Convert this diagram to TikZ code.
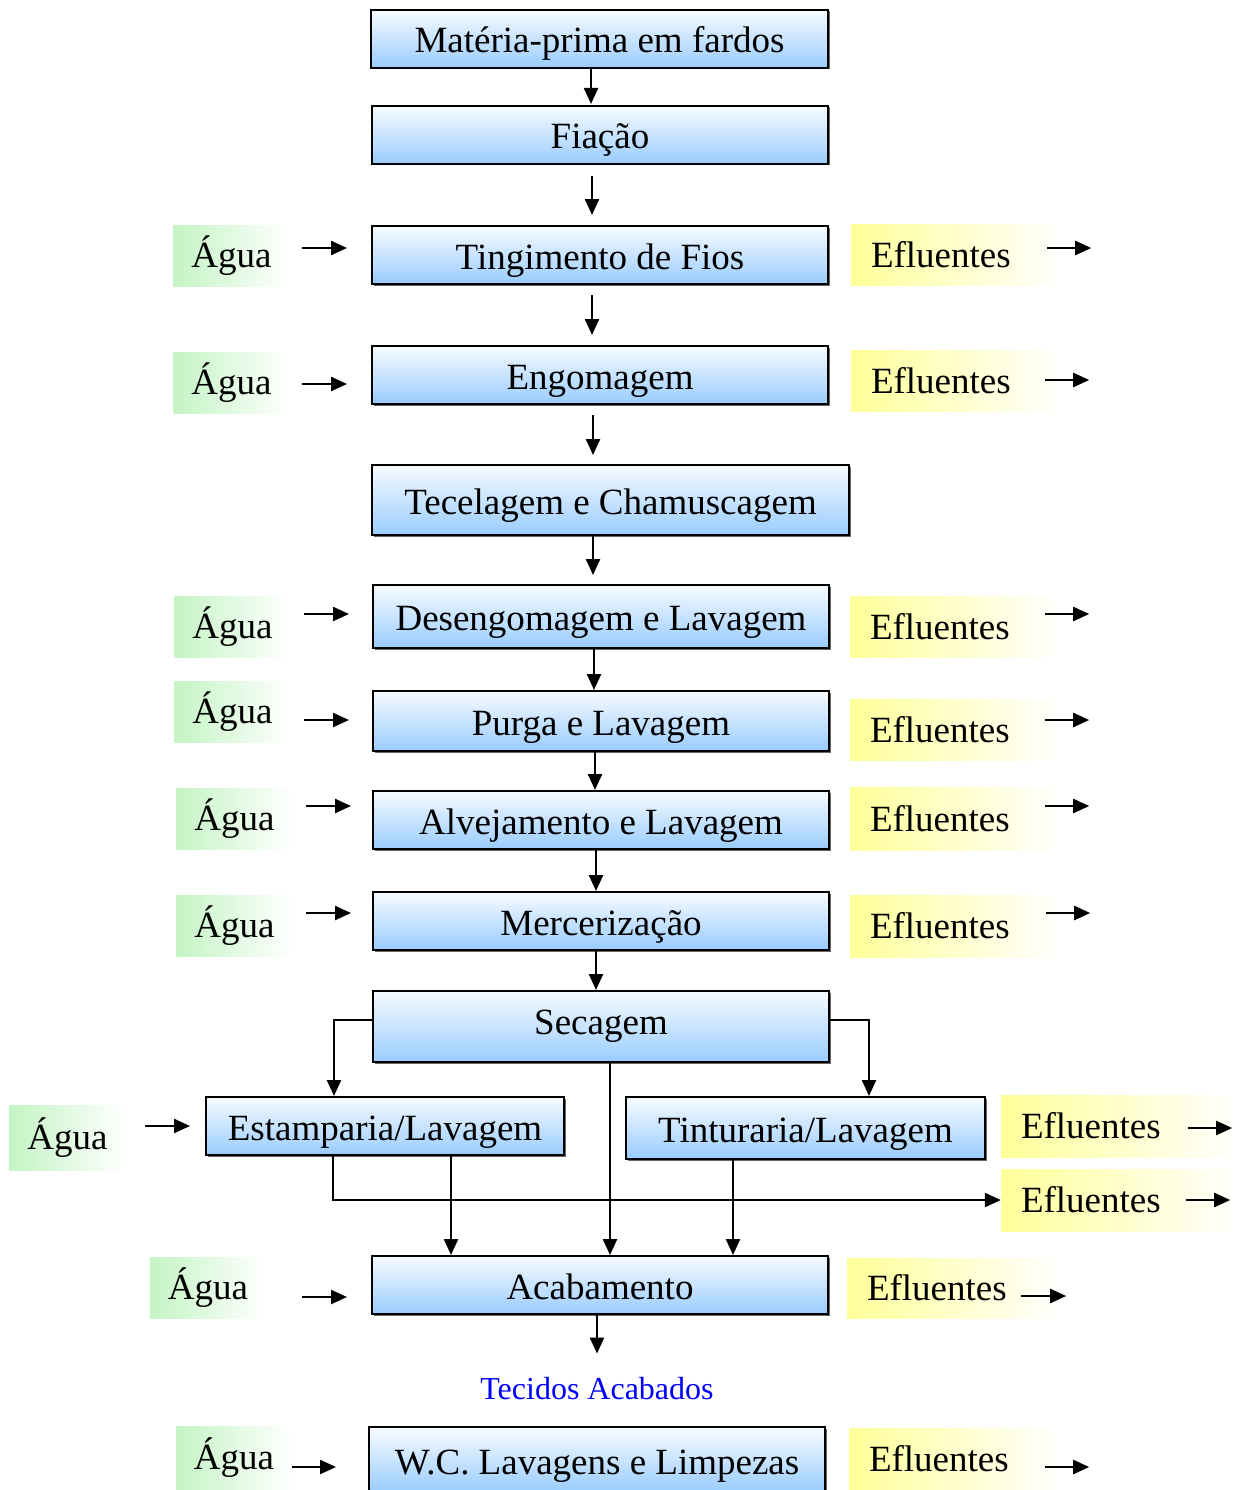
\documentclass[tikz,border=0pt]{standalone}
\usepackage{fontspec}
\setmainfont{Liberation Serif}
\usepackage{xcolor}
\usetikzlibrary{arrows.meta,shadows}
\definecolor{boxtop}{HTML}{F7FBFF}
\definecolor{boxbottom}{HTML}{99CCFF}
\definecolor{aguafill}{HTML}{C4F4C4}
\definecolor{eflfill}{HTML}{FFFF99}
\definecolor{produto}{HTML}{0000FF}

\begin{document}
\begin{tikzpicture}[
  x=1pt, y=-1pt,
  stage/.style={
    rectangle,
    draw=black,
    line width=2pt,
    top color=boxtop,
    bottom color=boxbottom,
    drop shadow={shadow xshift=1.5pt, shadow yshift=-1.5pt, fill=black!60, opacity=1},
    minimum width=456pt,
    minimum height=58pt,
    inner sep=0pt,
    text height=36pt,
    text depth=8pt,
    font=\fontsize{37}{44}\selectfont
  },
  agua/.style={
    rectangle,
    left color=aguafill,
    right color=white,
    minimum width=116pt,
    minimum height=61pt,
    inner sep=0pt,
    font=\fontsize{37}{44}\selectfont
  },
  efluente/.style={
    rectangle,
    left color=eflfill,
    right color=white,
    minimum height=61pt,
    inner xsep=20pt,
    inner ysep=0pt,
    text width=172pt,
    align=left,
    font=\fontsize{37}{44}\selectfont
  },
  produto/.style={inner sep=0pt, text=produto, font=\fontsize{32}{38}\selectfont},
  arrow/.style={-{Triangle[length=16pt,width=14pt]}, line width=2.4pt}
]
\useasboundingbox (0,0) rectangle (1241,1490);

\node[stage, minimum width=457pt] (mp) at (599.5,39) {Matéria-prima em fardos};
\node[stage] (fia) at (600,135) {Fiação};
\node[stage] (ting) at (600,255) {Tingimento de Fios};
\node[stage] (engo) at (600,375) {Engomagem};
\node[stage, minimum width=477pt, minimum height=70pt] (tece) at (610.5,500) {Tecelagem e Chamuscagem};
\node[stage, minimum height=63pt] (dese) at (601,616.5) {Desengomagem e Lavagem};
\node[stage, minimum height=60pt] (purga) at (601,721) {Purga e Lavagem};
\node[stage] (alve) at (601,820) {Alvejamento e Lavagem};
\node[stage] (merc) at (601,921) {Mercerização};
\node[stage, minimum height=71pt, text height=23pt] (seca) at (601,1026.5) {Secagem};
\node[stage, minimum width=358pt] (estp) at (385,1126) {Estamparia/Lavagem};
\node[stage, minimum width=359pt, minimum height=62pt] (tint) at (805.5,1128) {Tinturaria/Lavagem};
\node[stage] (acab) at (600,1285) {Acabamento};
\node[produto] (tec) at (597,1389) {Tecidos Acabados};
\node[stage, minimum height=66pt] (wc) at (597,1460) {W.C. Lavagens e Limpezas};

\node[agua] (ag3) at (231.5,255.5) {Água};
\node[agua] (ag4) at (231.5,383) {Água};
\node[agua] (ag6) at (232.5,627) {Água};
\node[agua] (ag7) at (232.5,712) {Água};
\node[agua] (ag8) at (234.5,818.5) {Água};
\node[agua] (ag9) at (234.5,926) {Água};
\node[agua, minimum height=65pt] (agE) at (67.5,1137.5) {Água};
\node[agua] (agA) at (208,1288) {Água};
\node[agua, minimum height=64pt] (agW) at (234,1458) {Água};

\node[efluente] (ef3) at (957,254.5) {Efluentes};
\node[efluente] (ef4) at (957,380.5) {Efluentes};
\node[efluente, text width=170pt] (ef6) at (955,627) {Efluentes};
\node[efluente, text width=170pt] (ef7) at (955,730) {Efluentes};
\node[efluente, text width=170pt, minimum height=63pt] (ef8) at (955,818.5) {Efluentes};
\node[efluente, text width=170pt, minimum height=62pt] (ef9) at (955,926) {Efluentes};
\node[efluente, text width=199pt, minimum height=62pt] (efT) at (1120.5,1126) {Efluentes};
\node[efluente, text width=199pt, minimum height=62pt] (efS) at (1120.5,1200) {Efluentes};
\node[efluente, text width=173pt, minimum height=60pt] (efA) at (953.5,1288) {Efluentes};
\node[efluente, text width=171pt, minimum height=62pt] (efW) at (954.5,1459) {Efluentes};

\draw[arrow, shorten >=1pt] ([xshift=-8.5pt]mp.south) -- ([xshift=-8.5pt]mp.south |- fia.north);
\draw[arrow, shorten <=11pt, shorten >=10pt] ([xshift=-8pt]fia.south) -- ([xshift=-8pt]fia.south |- ting.north);
\draw[arrow, shorten <=10pt, shorten >=10pt] ([xshift=-8pt]ting.south) -- ([xshift=-8pt]ting.south |- engo.north);
\draw[arrow, shorten <=10pt, shorten >=9pt] ([xshift=-7pt]engo.south) -- ([xshift=-7pt]engo.south |- tece.north);
\draw[arrow, shorten >=9pt] ([xshift=-17.5pt]tece.south) -- ([xshift=-17.5pt]tece.south |- dese.north);
\draw[arrow] ([xshift=-7pt]dese.south) -- ([xshift=-7pt]dese.south |- purga.north);
\draw[arrow] ([xshift=-6pt]purga.south) -- ([xshift=-6pt]purga.south |- alve.north);
\draw[arrow] ([xshift=-5pt]alve.south) -- ([xshift=-5pt]alve.south |- merc.north);
\draw[arrow] ([xshift=-5pt]merc.south) -- ([xshift=-5pt]merc.south |- seca.north);
\draw[arrow] ([yshift=6.5pt]seca.west) -| ([xshift=-51pt]estp.north);
\draw[arrow] ([yshift=6.5pt]seca.east) -| ([xshift=63.5pt]tint.north);
\draw[arrow] ([xshift=9pt]seca.south) -- ([xshift=9pt]seca.south |- acab.north);
\draw[arrow] ([xshift=66pt]estp.south) -- ([xshift=66pt]estp.south |- acab.north);
\draw[arrow] ([xshift=-72.5pt]tint.south) -- ([xshift=-72.5pt]tint.south |- acab.north);
\draw[arrow] ([xshift=-52pt]estp.south) |- (efS.west);
\draw[arrow, shorten >=24pt] ([xshift=-3pt]acab.south) -- ([xshift=-3pt]acab.south |- tec.north);

\draw[arrow, shorten <=12.5pt, shorten >=24pt] ([yshift=7.5pt]ag3.east) -- ([yshift=7.5pt]ag3.east -| ting.west);
\draw[arrow, shorten <=12.5pt, shorten >=24pt] ([yshift=-1pt]ag4.east) -- ([yshift=-1pt]ag4.east -| engo.west);
\draw[arrow, shorten <=13.5pt, shorten >=23pt] ([yshift=13pt]ag6.east) -- ([yshift=13pt]ag6.east -| dese.west);
\draw[arrow, shorten <=13.5pt, shorten >=23pt] ([yshift=-8pt]ag7.east) -- ([yshift=-8pt]ag7.east -| purga.west);
\draw[arrow, shorten <=13.5pt, shorten >=21pt] ([yshift=12.5pt]ag8.east) -- ([yshift=12.5pt]ag8.east -| alve.west);
\draw[arrow, shorten <=13.5pt, shorten >=21pt] ([yshift=13pt]ag9.east) -- ([yshift=13pt]ag9.east -| merc.west);
\draw[arrow, shorten <=19.5pt, shorten >=15pt] ([yshift=11.5pt]agE.east) -- ([yshift=11.5pt]agE.east -| estp.west);
\draw[arrow, shorten <=36pt, shorten >=24pt] ([yshift=-9pt]agA.east) -- ([yshift=-9pt]agA.east -| acab.west);
\draw[arrow, shorten >=32pt] ([yshift=-9pt]agW.east) -- ([yshift=-9pt]agW.east -| wc.west);

\draw[arrow] ([xshift=-16pt,yshift=6.5pt]ef3.east) -- ++(44,0);
\draw[arrow] ([xshift=-18pt,yshift=0.5pt]ef4.east) -- ++(44,0);
\draw[arrow] ([xshift=-15pt,yshift=13pt]ef6.east) -- ++(44,0);
\draw[arrow] ([xshift=-15pt,yshift=10pt]ef7.east) -- ++(44,0);
\draw[arrow] ([xshift=-15pt,yshift=12.5pt]ef8.east) -- ++(44,0);
\draw[arrow] ([xshift=-14pt,yshift=13pt]ef9.east) -- ++(44,0);
\draw[arrow] ([xshift=-52pt,yshift=-2pt]efT.east) -- ++(44,0);
\draw[arrow] ([xshift=-54pt]efS.east) -- ++(44,0);
\draw[arrow] ([xshift=-39pt,yshift=-8pt]efA.east) -- ++(45,0);
\draw[arrow] ([xshift=-15pt,yshift=-8pt]efW.east) -- ++(44,0);
\end{tikzpicture}
\end{document}
